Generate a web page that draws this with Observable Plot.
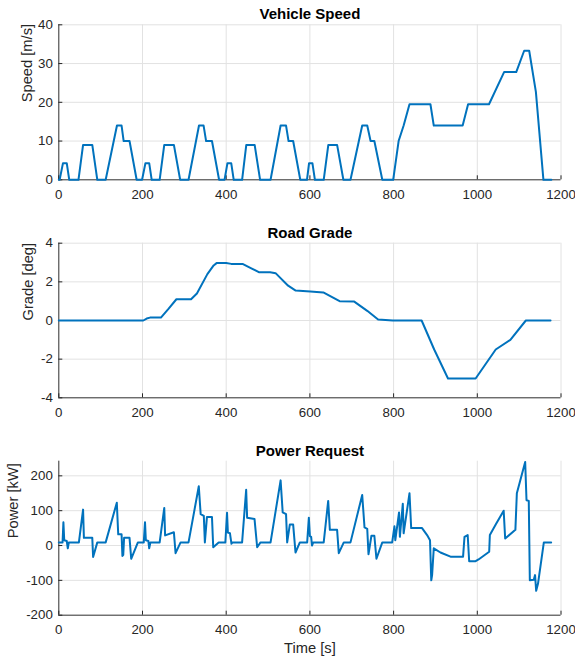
<!DOCTYPE html>
<html>
<head>
<meta charset="utf-8">
<script src="https://cdn.jsdelivr.net/npm/d3@7"></script>
<script src="https://cdn.jsdelivr.net/npm/@observablehq/plot@0.6"></script>
<style>
  html, body { margin: 0; padding: 0; background: #fff; }
  #chart svg { display: block; }
</style>
</head>
<body>
<div id="chart"></div>
<script>
// ---- Data ----
const xTicks = [0, 200, 400, 600, 800, 1000, 1200];
const speedTicks = [0, 10, 20, 30, 40];
const gradeTicks = [-4, -2, 0, 2, 4];
const powerTicks = [-200, -100, 0, 100, 200];

const titles = ["Vehicle Speed", "Road Grade", "Power Request"];
const yLabels = ["Speed [m/s]", "Grade [deg]", "Power [kW]"];
const xLabel = "Time [s]";

// Vehicle speed [m/s]
const speedT = [0, 2, 10, 19, 25, 47, 58, 80, 92, 112, 139, 150, 155, 169, 186,
  197, 199, 207, 216, 222, 241, 252, 275, 290, 310, 335, 346, 352, 366, 383,
  394, 396, 403, 412, 418, 438, 448, 468, 481, 506, 530, 543, 549, 560, 577,
  590, 593, 598, 606, 612, 633, 644, 665, 680, 697, 725, 737, 745, 754, 773,
  799, 812, 824, 838, 888, 896, 965, 978, 1028, 1064, 1093, 1112, 1124, 1140, 1158, 1177];
const speedV = [0, 0, 4.3, 4.3, 0, 0, 9, 9, 0, 0, 14, 14, 10, 10, 0,
  0, 0, 4.3, 4.3, 0, 0, 9, 9, 0, 0, 14, 14, 10, 10, 0,
  0, 0, 4.3, 4.3, 0, 0, 9, 9, 0, 0, 14, 14, 10, 10, 0,
  0, 0, 4.3, 4.3, 0, 0, 9, 9, 0, 0, 14, 14, 10, 10, 0,
  0, 10, 14, 19.5, 19.5, 14, 14, 19.5, 19.5, 27.8, 27.8, 33.3, 33.3, 22.7, 0, 0];

// Road grade [deg]
const gradeT = [0, 202, 210, 218, 244, 262, 281, 316, 330, 355, 370, 377, 400, 412, 439, 460, 478, 505, 518,
  548, 566, 601, 632, 671, 706, 737, 763, 798, 867, 897, 930, 996, 1044, 1079, 1116, 1175];
const gradeV = [0, 0, 0.1, 0.15, 0.15, 0.6, 1.1, 1.1, 1.4, 2.4, 2.85, 2.97, 2.97, 2.93, 2.93, 2.7, 2.5, 2.5, 2.45,
  1.8, 1.55, 1.5, 1.45, 1.0, 0.98, 0.5, 0.05, 0, 0, -1.5, -3, -3, -1.5, -1.0, 0, 0];

// Power request [kW]
const powerT = [0, 9, 11, 13, 19, 21.5, 24, 48, 58, 60, 80, 82, 92, 112, 138.6, 142, 150, 152, 154, 156, 169, 173, 189,
  203, 206, 208, 214, 216, 219, 241, 252, 254, 275, 279, 291, 310, 334.5, 339, 346.5, 349, 354, 366, 369, 382,
  398, 402, 404, 409, 412.6, 415, 438, 447.7, 450, 467.7, 474, 482, 506, 530, 535, 543, 545.7, 552, 560, 565.6, 576,
  593.5, 597.5, 600, 603, 605, 608, 633, 643.7, 647.7, 665, 669, 681, 697, 725, 730.5, 737, 740, 747, 754, 759, 773,
  796.6, 802, 804, 813, 815, 822, 824, 838, 842, 868, 880, 887, 890, 892, 896, 912, 936, 966, 969.4, 977, 980.6, 996,
  1003, 1028.4, 1030, 1044, 1063, 1066.6, 1091, 1094.5, 1114.4, 1117.6, 1123, 1125.5, 1135, 1138, 1140.7, 1145, 1159, 1176.5];
const powerV = [9, 9, 67, 15, 13, -8, 9, 9, 103, 22, 22, -33, 9, 9, 123, 32, 32, -30, -27, 22, 22, -38, 9,
  9, 67, 15, 13, -8, 9, 9, 108, 29, 38, -22, 9, 9, 170, 90, 85, 9, 82, 82, -5, 9,
  9, 94, 37, 35, 5, 9, 9, 160, 80, 76, -5, 9, 9, 187, 95, 90, 9, 60, 60, -20, 9,
  9, 80, 27, 25, 0, 9, 9, 128, 45, 45, -22, 9, 9, 145, 52, 48, -25, 28, 28, -38, 9,
  9, 55, 15, 95, 25, 120, 35, 150, 50, 50, 30, 15, -100, -85, -8, -20, -32, -32, 25, 30, -45, -45,
  -40, -18, 30, 60, 100, 20, 45, 150, 240, 130, 128, -100, -98, -85, -130, -110, 9, 9];

// ---- Build ----
const FONT = "'Liberation Sans', Arial, Helvetica, sans-serif";
const BLUE = "#0072BD";
const AXIS = "#262626";
const GRID = "#e2e2e2";
const fmt = d => String(d);

const toRows = (T, V) => T.map((t, i) => ({t, v: V[i]}));

function panel({rows, yDomain, yTicks, title, ylabel, ylabelDx, xlabel, height, marginTop, marginBottom}) {
  return Plot.plot({
    width: 575,
    height,
    marginLeft: 58.3,
    marginRight: 14.5,
    marginTop,
    marginBottom,
    style: {fontFamily: FONT, fontSize: "13.3px", color: AXIS, background: "white", overflow: "visible"},
    x: {domain: [0, 1200]},
    y: {domain: yDomain},
    marks: [
      Plot.gridX(xTicks, {stroke: GRID, strokeOpacity: 1}),
      Plot.gridY(yTicks, {stroke: GRID, strokeOpacity: 1}),
      Plot.ruleX([0], {stroke: AXIS, strokeWidth: 0.9}),
      Plot.ruleY([yDomain[0]], {stroke: AXIS, strokeWidth: 0.9}),
      Plot.axisX(xTicks, {tickSize: -4, tickPadding: 13.5, label: null, stroke: AXIS, tickFormat: fmt}),
      Plot.axisY(yTicks, {tickSize: 0, tickPadding: 6, label: null, tickFormat: fmt}),
      Plot.axisY(yTicks, {tickSize: -4, label: null, stroke: AXIS, tickFormat: () => ""}),
      Plot.line(rows, {x: "t", y: "v", stroke: BLUE, strokeWidth: 2}),
      Plot.text([title], {frameAnchor: "top", dy: -10.3, fontWeight: "bold", fontSize: 15, fill: "#000", lineAnchor: "middle"}),
      Plot.text([ylabel], {frameAnchor: "left", dx: ylabelDx, rotate: -90, fontSize: 14.7, fill: AXIS, lineAnchor: "middle"}),
      xlabel ? Plot.text([xlabel], {frameAnchor: "bottom", dy: 33, fontSize: 14.7, fill: AXIS, lineAnchor: "middle"}) : null
    ]
  });
}

const chart = document.getElementById("chart");
chart.append(panel({rows: toRows(speedT, speedV), yDomain: [0, 40], yTicks: speedTicks,
  title: titles[0], ylabel: yLabels[0], ylabelDx: -31.5, height: 218, marginTop: 24.3, marginBottom: 38.7}));
chart.append(panel({rows: toRows(gradeT, gradeV), yDomain: [-4, 4], yTicks: gradeTicks,
  title: titles[1], ylabel: yLabels[1], ylabelDx: -30.5, height: 218, marginTop: 24.7, marginBottom: 38.7}));
chart.append(panel({rows: toRows(powerT, powerV), yDomain: [-200, 242], yTicks: powerTicks,
  title: titles[2], ylabel: yLabels[2], ylabelDx: -45.5, xlabel: xLabel, height: 222, marginTop: 24.7, marginBottom: 43.3}));
</script>
</body>
</html>
